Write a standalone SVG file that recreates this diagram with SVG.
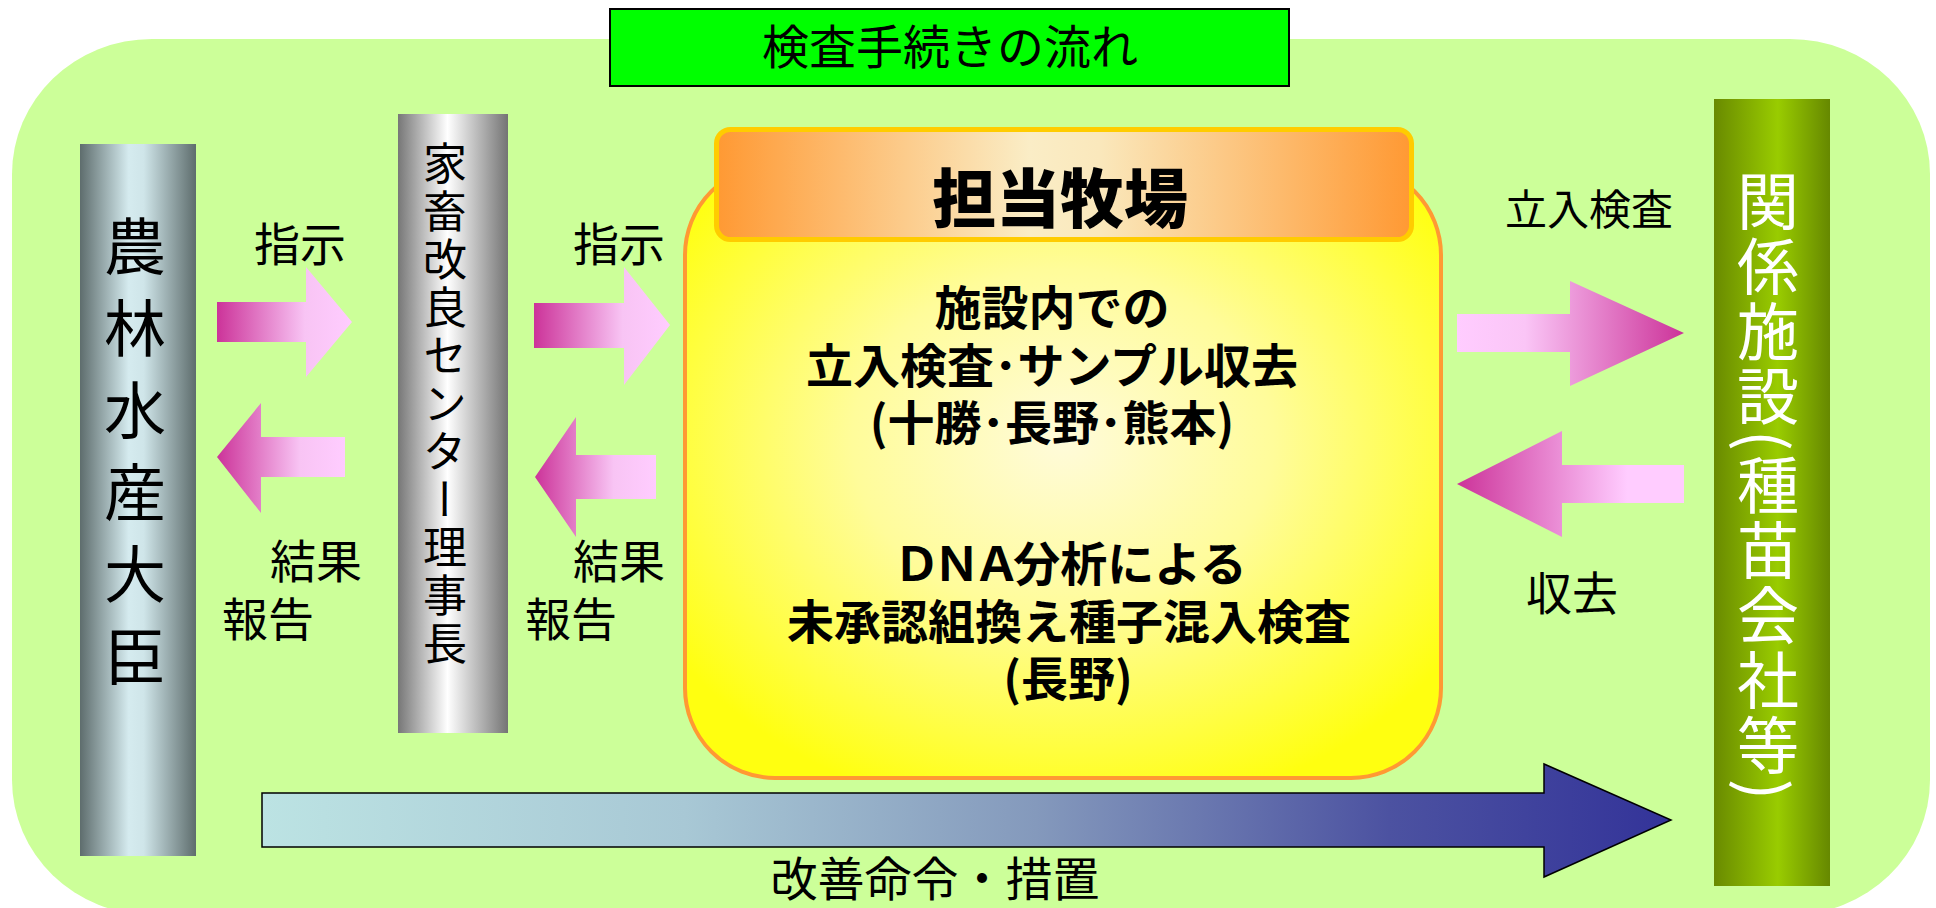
<svg xmlns="http://www.w3.org/2000/svg" width="1936" height="908" viewBox="0 0 1936 908">
<style>
  .t { font-family: "Noto Sans CJK JP", "Noto Sans CJK SC", sans-serif; fill: #000; }
  .lbl { font-size: 46px; }
  .b { font-weight: 700; font-size: 47px; text-anchor: middle; }
  .vt { writing-mode: vertical-rl; }
  .pk { stroke: none; }
</style>
<defs>
  <linearGradient id="gNorin" x1="0" y1="0" x2="1" y2="0">
    <stop offset="0" stop-color="#5E6D6D"/>
    <stop offset="0.42" stop-color="#D5EBEF"/>
    <stop offset="0.55" stop-color="#CFE5E9"/>
    <stop offset="1" stop-color="#5E6D6D"/>
  </linearGradient>
  <linearGradient id="gKachiku" x1="0" y1="0" x2="1" y2="0">
    <stop offset="0" stop-color="#777777"/>
    <stop offset="0.45" stop-color="#FFFFFF"/>
    <stop offset="1" stop-color="#747474"/>
  </linearGradient>
  <linearGradient id="gKankei" x1="0" y1="0" x2="1" y2="0">
    <stop offset="0" stop-color="#698A00"/>
    <stop offset="0.55" stop-color="#99CC00"/>
    <stop offset="1" stop-color="#668800"/>
  </linearGradient>
  <linearGradient id="gHeader" x1="0" y1="0" x2="1" y2="0">
    <stop offset="0" stop-color="#FF9933"/>
    <stop offset="0.45" stop-color="#FAEDC6"/>
    <stop offset="0.55" stop-color="#FAE8BC"/>
    <stop offset="1" stop-color="#FF9933"/>
  </linearGradient>
  <radialGradient id="gYellow" cx="0.5" cy="0.45" r="0.62">
    <stop offset="0" stop-color="#FFFBDA"/>
    <stop offset="0.45" stop-color="#FFFC9A"/>
    <stop offset="1" stop-color="#FFFF10"/>
  </radialGradient>
  <linearGradient id="gPinkLR" x1="0" y1="0" x2="1" y2="0">
    <stop offset="0" stop-color="#CC3399"/>
    <stop offset="0.65" stop-color="#F8C4F4"/>
    <stop offset="1" stop-color="#FFCCFF"/>
  </linearGradient>
  <linearGradient id="gPinkRL" x1="0" y1="0" x2="1" y2="0">
    <stop offset="0" stop-color="#FFCCFF"/>
    <stop offset="0.3" stop-color="#FAC5F6"/>
    <stop offset="1" stop-color="#CC3399"/>
  </linearGradient>
  <linearGradient id="gPinkL3" x1="0" y1="0" x2="1" y2="0">
    <stop offset="0" stop-color="#CC3399"/>
    <stop offset="0.75" stop-color="#FFCCFF"/>
    <stop offset="1" stop-color="#FFCCFF"/>
  </linearGradient>
  <linearGradient id="gBlue" x1="0" y1="0" x2="1" y2="0">
    <stop offset="0" stop-color="#BCE3E3"/>
    <stop offset="0.3" stop-color="#A8C8D5"/>
    <stop offset="0.55" stop-color="#8499BC"/>
    <stop offset="0.8" stop-color="#4C52A1"/>
    <stop offset="1" stop-color="#333399"/>
  </linearGradient>
</defs>

<rect x="0" y="0" width="1936" height="908" fill="#FFFFFF"/>

<g id="background">
  <rect x="12" y="39" width="1918" height="876" rx="140" ry="135" fill="#CCFF99"/>
</g>

<g id="title">
  <rect x="610" y="9" width="679" height="77" fill="#00FF00" stroke="#000" stroke-width="2"/>
  <text class="t" x="950" y="64" font-size="47" text-anchor="middle">検査手続きの流れ</text>
</g>

<g id="norin">
  <rect x="80" y="144" width="116" height="712" fill="url(#gNorin)"/>
  <text class="t vt" x="135" y="215" font-size="62" letter-spacing="20">農林水産大臣</text>
</g>

<g id="kachiku">
  <rect x="398" y="114" width="110" height="619" fill="url(#gKachiku)"/>
  <text class="t vt" x="445" y="141" font-size="44" letter-spacing="4">家畜改良センター理事長</text>
</g>

<g id="farm">
  <rect x="685" y="165" width="756" height="613" rx="90" ry="90" fill="url(#gYellow)" stroke="#FF9933" stroke-width="4"/>
  <rect x="716.5" y="129.5" width="695" height="110" rx="14" ry="14" fill="url(#gHeader)" stroke="#FFCC00" stroke-width="5"/>
  <text class="t" x="1060" y="222" font-size="64" font-weight="900" text-anchor="middle">担当牧場</text>
  <text class="t b" x="1052" y="325">施設内での</text>
  <text class="t b" x="1052" y="383">立入検査･サンプル収去</text>
  <text class="t b" x="1052" y="440">(十勝･長野･熊本)</text>
  <text class="t b" x="1070" y="581" font-size="44"><tspan letter-spacing="-7">ＤＮＡ</tspan>分析による</text>
  <text class="t b" x="1069" y="639">未承認組換え種子混入検査</text>
  <text class="t b" x="1068" y="696">(長野)</text>
</g>

<g id="kankei">
  <rect x="1714" y="99" width="116" height="787" fill="url(#gKankei)"/>
  <text class="t vt" x="1768" y="170" font-size="62" letter-spacing="3" style="fill:#FFFFFF">関係施設(種苗会社等)</text>
</g>

<g id="connectors">
  <polygon class="pk" points="217,302 306,302 306,267 352,322 306,377 306,342 217,342" fill="url(#gPinkLR)"/>
  <polygon class="pk" points="217,457 261,403 261,437 345,437 345,477 261,477 261,513" fill="url(#gPinkLR)"/>
  <polygon class="pk" points="534,303 624,303 624,267 670,325 624,385 624,348 534,348" fill="url(#gPinkLR)"/>
  <polygon class="pk" points="535,477 576,417 576,455 656,455 656,499 576,499 576,537" fill="url(#gPinkLR)"/>
  <polygon class="pk" points="1457,314 1570,314 1570,281 1684,333 1570,386 1570,352 1457,352" fill="url(#gPinkRL)"/>
  <polygon class="pk" points="1457,484 1562,431 1562,465 1684,465 1684,503 1562,503 1562,537" fill="url(#gPinkL3)"/>
  <polygon points="262,793 1544,793 1544,764 1671,820 1544,877 1544,847 262,847" fill="url(#gBlue)" stroke="#000" stroke-width="1.5"/>
</g>

<g id="labels">
  <text class="t lbl" x="254" y="261">指示</text>
  <text class="t lbl" x="573" y="261">指示</text>
  <text class="t lbl" x="270" y="578">結果</text>
  <text class="t lbl" x="222" y="636">報告</text>
  <text class="t lbl" x="573" y="578">結果</text>
  <text class="t lbl" x="525" y="636">報告</text>
  <text class="t" x="1505" y="225" font-size="42">立入検査</text>
  <text class="t" x="1526" y="610" font-size="46">収去</text>
  <text class="t" x="935" y="896" font-size="47" text-anchor="middle">改善命令・措置</text>
</g>
</svg>
